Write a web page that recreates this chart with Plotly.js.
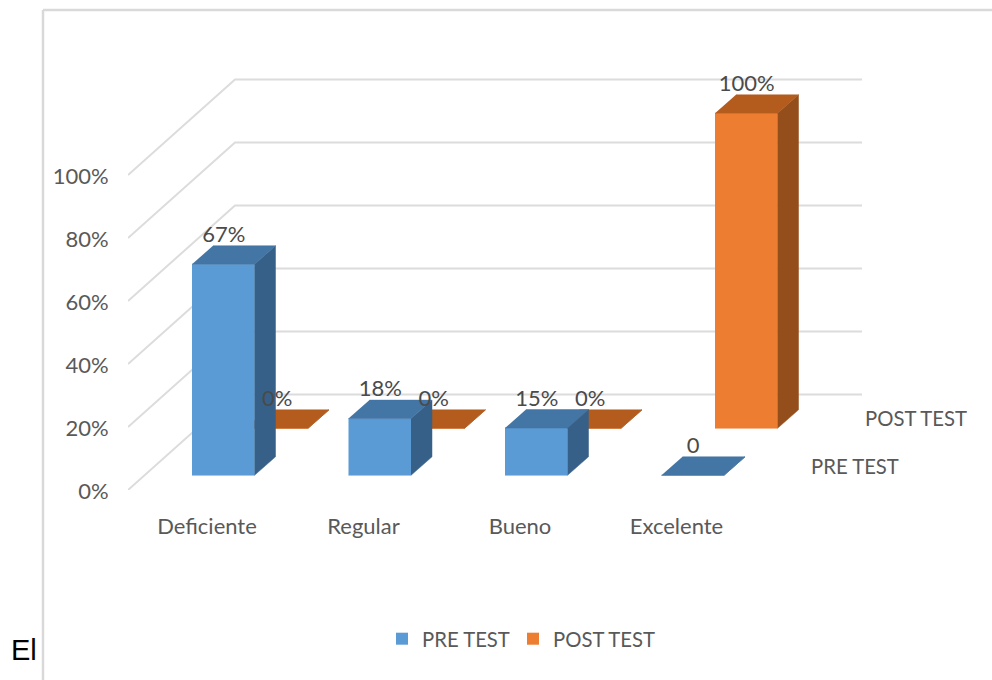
<!DOCTYPE html>
<html><head><meta charset="utf-8">
<script src="https://cdn.plot.ly/plotly-3.0.1.min.js"></script>
<style>html,body{margin:0;padding:0;background:#fff}#c{width:992px;height:680px}</style>
</head><body><div id="c"></div>
<script>
const categories = ['Deficiente','Regular','Bueno','Excelente'];
const preTest = [67,18,15,0];
const postTest = [0,0,0,100];
const preLabels = ['67%','18%','15%','0'];
const postLabels = ['0%','0%','0%','100%'];
const yTicks = [0,20,40,60,80,100];
const yTickText = ['0%','20%','40%','60%','80%','100%'];
const seriesNames = ['PRE TEST','POST TEST'];

const W=992,H=680,L=128,Y0=490;
const PXX=156.5,PXY=3.15,X0=207;              // px per category, px per percent, first tick px
const ux=p=>p/PXX, uy=p=>p/PXY;
const barOff=ux(-15), barW=ux(62.5), dX=ux(21), dY=uy(18.5);
const rowX=ux(53.5), rowY=uy(47), baseY=uy(14.7);
const wallX=ux(107), wallY=uy(95.5), xLeft=ux(L-X0), xEnd=ux(862-X0);
const font='Lato, "Liberation Sans", sans-serif', TXT='#595959', LBL='#4a4a4a';

const traces=[];
// legend entries
seriesNames.forEach((n,i)=>traces.push({type:'bar',name:n,x:[null],y:[null],legend:i?'legend2':'legend',marker:{color:i?'#ed7d31':'#5b9bd5'},hoverinfo:'skip'}));
// gridlines
yTicks.forEach(t=>traces.push({type:'scatter',mode:'lines',x:[xLeft,xLeft+wallX,xEnd],y:[t,t+wallY,t+wallY],
  line:{color:'#dcdcdc',width:2},showlegend:false,hoverinfo:'skip'}));
function poly(xs,ys,c){traces.push({type:'scatter',mode:'lines',x:xs,y:ys,fill:'toself',fillcolor:c,line:{color:c,width:0.5},showlegend:false,hoverinfo:'skip'});}
function series(vals,row,cF,cS,cT){
  vals.forEach((v,i)=>{
    const x0=i+barOff+row*rowX,x1=x0+barW,b=baseY+row*rowY,t=b+v;
    poly([x0,x1,x1,x0],[b,b,t,t],cF);
    poly([x1,x1+dX,x1+dX,x1],[b,b+dY,t+dY,t],cS);
    poly([x0,x1,x1+dX,x0+dX],[t,t,t+dY,t+dY],cT);
  });
}
series(postTest,1,'#ed7d31','#934e1b','#b35c1e');
series(preTest,0,'#5b9bd5','#376088','#4375a5');
// value labels
function labels(vals,row,txt){
  traces.push({type:'scatter',mode:'text',showlegend:false,hoverinfo:'skip',
    x:vals.map((v,i)=>i+barOff+row*rowX+barW/2+ux(0.5)),
    y:vals.map(v=>baseY+row*rowY+v+dY+uy(9.5)),
    text:txt,textposition:'middle center',textfont:{family:font,size:22,color:LBL}});
}
labels(postTest,1,postLabels);
labels(preTest,0,preLabels);

const pxPaperX=p=>(p-L)/(W-L), pxPaperY=p=>(Y0-p)/Y0;
const legendBase=(px)=>({orientation:'h',xref:'paper',yref:'paper',x:pxPaperX(px),y:pxPaperY(619),xanchor:'left',yanchor:'top',
    font:{family:font,size:20.3,color:TXT},itemwidth:30,bgcolor:'rgba(0,0,0,0)',traceorder:'normal',itemclick:false,itemdoubleclick:false});
const layout={
  width:W,height:H,margin:{l:L,r:0,t:0,b:H-Y0,pad:0},paper_bgcolor:'#fff',plot_bgcolor:'rgba(0,0,0,0)',
  font:{family:font,color:TXT,size:21},
  xaxis:{range:[ux(L-X0),ux(W-X0)],tickmode:'array',tickvals:categories.map((c,i)=>i),ticktext:categories,
    showgrid:false,zeroline:false,showline:false,ticks:'outside',ticklen:17,tickcolor:'rgba(0,0,0,0)',
    tickfont:{family:font,size:22,color:TXT},fixedrange:true},
  yaxis:{range:[0,Y0/PXY],tickmode:'array',tickvals:yTicks,ticktext:yTickText,ticklabelshift:1,
    showgrid:false,zeroline:false,showline:false,ticks:'outside',ticklen:14,tickcolor:'rgba(0,0,0,0)',
    tickfont:{family:font,size:22,color:TXT},fixedrange:true},
  showlegend:true,
  legend:legendBase(382),
  legend2:legendBase(513),
  shapes:[
    {type:'line',xref:'paper',yref:'paper',x0:pxPaperX(43),x1:pxPaperX(992),y0:pxPaperY(10),y1:pxPaperY(10),line:{color:'#d9d9d9',width:2.5}},
    {type:'line',xref:'paper',yref:'paper',x0:pxPaperX(43),x1:pxPaperX(43),y0:pxPaperY(10),y1:pxPaperY(680),line:{color:'#d9d9d9',width:2.5}}
  ],
  annotations:[
    {xref:'paper',yref:'paper',x:pxPaperX(863),y:pxPaperY(418),xanchor:'left',yanchor:'middle',showarrow:false,text:seriesNames[1],font:{family:font,size:20.3,color:TXT}},
    {xref:'paper',yref:'paper',x:pxPaperX(809),y:pxPaperY(466),xanchor:'left',yanchor:'middle',showarrow:false,text:seriesNames[0],font:{family:font,size:20.3,color:TXT}},
    {xref:'paper',yref:'paper',x:pxPaperX(9),y:pxPaperY(650),xanchor:'left',yanchor:'middle',showarrow:false,text:'El',font:{family:'"Liberation Sans",Arial,sans-serif',size:29,color:'#000'}}
  ]
};
Plotly.newPlot('c',traces,layout,{displayModeBar:false,staticPlot:true});
</script></body></html>
